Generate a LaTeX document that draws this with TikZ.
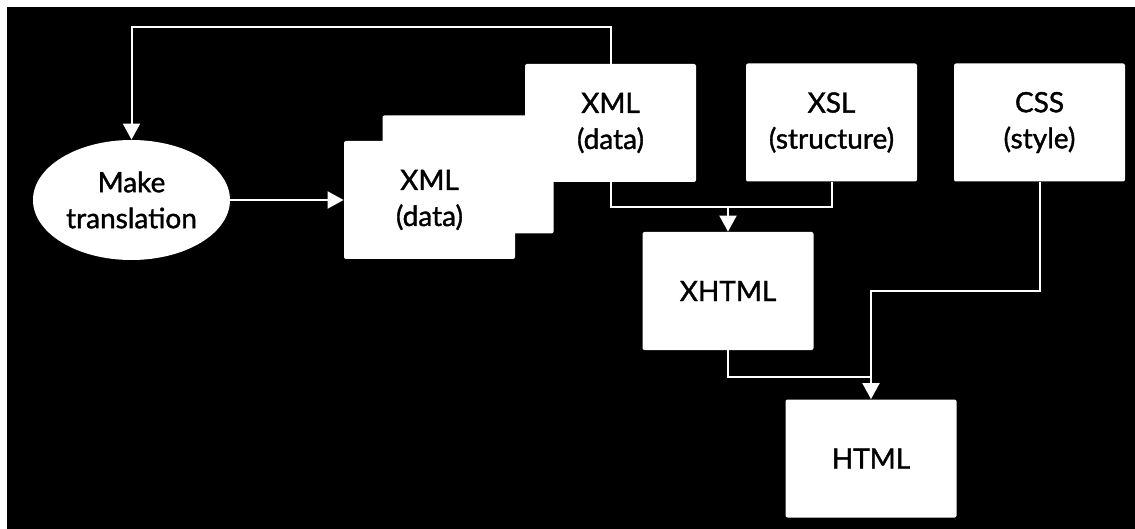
\documentclass[tikz,border=0pt]{standalone}
\usepackage{fontspec}
\setmainfont{Lato}
\newfontfamily\labelfont[FakeBold=1.3]{Lato}
\usetikzlibrary{arrows.meta,shapes.geometric}
\begin{document}
\begin{tikzpicture}[x=0.5pt,y=-0.5pt,
  box/.style={fill=white, rounded corners=1pt, inner sep=0pt, align=center,
    text=black, font=\labelfont\fontsize{14}{18}\selectfont},
  card/.style={box, minimum width=85.5pt, minimum height=59pt},
  oval/.style={box, ellipse, minimum width=98.5pt, minimum height=60pt},
  wire/.style={draw=white, line width=1pt},
  arr/.style={wire, -{Triangle[width=8.5pt,length=8pt]}}]
% page margin and dark field
\fill[white] (0,0) rectangle (1135,529);
\fill[black] (6.5,7) rectangle (1135,529);
\useasboundingbox (0,0) rectangle (1135,529);

% process
\node[oval] (mk) at (131.5,200) {Make\\translation};

% stack of XML documents
\node[card] (xml2) at (468,174.5) {};
\node[card] (xml3) at (610.5,123) {XML\\(data)};
\node[card] (xml1) at (429.5,200) {XML\\(data)};

% sources
\node[card] (xsl) at (831.5,122.5) {XSL\\(structure)};
\node[card] (css) at (1039.5,122.5) {CSS\\(style)};

% results
\node[card] (xhtml) at (728,291) {XHTML};
\node[card] (html) at (871,458.5) {HTML};

% junction points
\coordinate (top) at (0,27);
\coordinate (j1) at (728,207);
\coordinate (j2) at (871,291);
\coordinate (j3) at (871,377);

% connectors
\draw[arr] (xml3.north) -- (xml3.north |- top) -| (mk.north);
\draw[arr] (mk.east) -- (xml1.west);
\draw[wire] (xml3.south) |- (j1) -| (xsl.south);
\draw[arr] (j1) -- (xhtml.north);
\draw[arr] (css.south) |- (j2) -- (html.north);
\draw[wire] (xhtml.south) |- (j3);
\end{tikzpicture}
\end{document}
